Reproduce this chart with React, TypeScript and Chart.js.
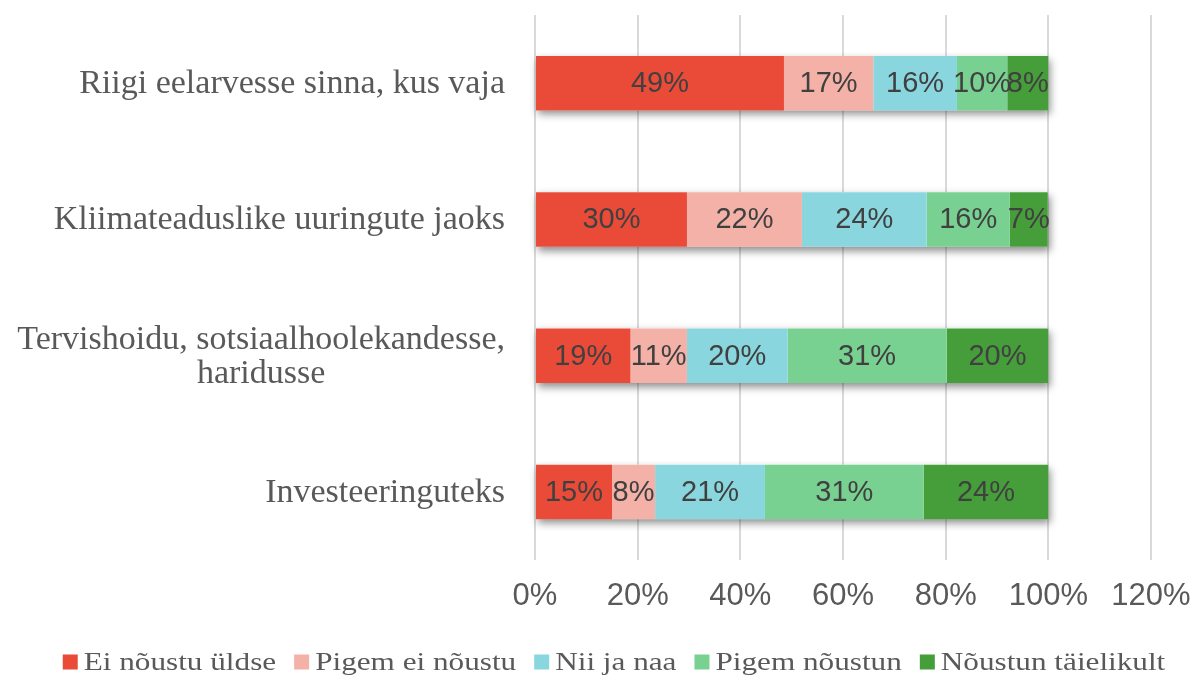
import React, { useEffect, useRef } from "react";
import { Chart, registerables } from "chart.js";

Chart.register(...registerables);

const categories: (string | string[])[] = [
  "Riigi eelarvesse sinna, kus vaja",
  "Kliimateaduslike uuringute jaoks",
  ["Tervishoidu, sotsiaalhoolekandesse,", "haridusse"],
  "Investeeringuteks",
];

const seriesNames = [
  "Ei nõustu üldse",
  "Pigem ei nõustu",
  "Nii ja naa",
  "Pigem nõustun",
  "Nõustun täielikult",
];

const eiNoustuUldse = [48.5, 29.6, 18.6, 15.0];
const pigemEiNoustu = [17.4, 22.4, 11.0, 8.4];
const niiJaNaa = [16.3, 24.3, 19.6, 21.4];
const pigemNoustun = [9.8, 16.2, 31.0, 30.9];
const noustunTaielikult = [8.0, 7.4, 19.8, 24.3];

const seriesColors = ["#EA4B39", "#F4B1A7", "#8AD6DE", "#78D191", "#469E3B"];

const xTicks = [0, 20, 40, 60, 80, 100, 120];

const SERIF = "'Liberation Serif', 'Times New Roman', serif";
const SANS = "'Liberation Sans', Arial, sans-serif";

const barShadow = {
  id: "barShadow",
  beforeDatasetsDraw(chart: any) {
    const ctx = chart.ctx;
    const n = chart.data.datasets.length;
    const first = chart.getDatasetMeta(0);
    const last = chart.getDatasetMeta(n - 1);
    ctx.save();
    ctx.shadowColor = "rgba(0,0,0,0.45)";
    ctx.shadowBlur = 8;
    ctx.shadowOffsetX = 2;
    ctx.shadowOffsetY = 4;
    ctx.fillStyle = "#ffffff";
    first.data.forEach((el: any, i: number) => {
      const endEl = last.data[i];
      const x0 = el.base;
      const x1 = endEl.x;
      const h = el.height;
      ctx.fillRect(x0, el.y - h / 2, x1 - x0, h);
    });
    ctx.restore();
  },
};

const dataLabels = {
  id: "dataLabels",
  afterDatasetsDraw(chart: any) {
    const ctx = chart.ctx;
    ctx.save();
    ctx.font = `29px ${SANS}`;
    ctx.fillStyle = "#404040";
    ctx.textAlign = "center";
    ctx.textBaseline = "middle";
    chart.data.datasets.forEach((ds: any, di: number) => {
      const meta = chart.getDatasetMeta(di);
      meta.data.forEach((el: any, i: number) => {
        const v = ds.data[i];
        const cx = (el.x + el.base) / 2;
        ctx.fillText(Math.round(v) + "%", cx, el.y + 1);
      });
    });
    ctx.restore();
  },
};

const categoryLabels = {
  id: "categoryLabels",
  afterDraw(chart: any) {
    const ctx = chart.ctx;
    const scale = chart.scales.y;
    const fontSize = 34;
    const lineH = 34;
    const xRight = scale.right - 30;
    ctx.save();
    ctx.font = `${fontSize}px ${SERIF}`;
    ctx.fillStyle = "#595959";
    ctx.textBaseline = "middle";
    categories.forEach((lab, i) => {
      const yc = scale.getPixelForValue(i);
      const lines = Array.isArray(lab) ? lab : [lab];
      const widest = Math.max(...lines.map((l) => ctx.measureText(l).width));
      const cx = xRight - widest / 2;
      ctx.textAlign = "center";
      const y0 = yc - ((lines.length - 1) * lineH) / 2;
      lines.forEach((l, k) => {
        ctx.fillText(l, cx, y0 + k * lineH + 1);
      });
    });
    ctx.restore();
  },
};

const customLegend = {
  id: "customLegend",
  afterDraw(chart: any) {
    const ctx = chart.ctx;
    const stretch = 1.2;
    const box = 15;
    const boxGap = 6;
    const itemGap = 18;
    const yc = 662;
    const centerX = 614;
    ctx.save();
    ctx.font = `26px ${SERIF}`;
    ctx.textBaseline = "middle";
    ctx.textAlign = "left";
    const widths = seriesNames.map((s) => ctx.measureText(s).width * stretch);
    const total =
      widths.reduce((a, b) => a + b, 0) +
      seriesNames.length * (box + boxGap) +
      (seriesNames.length - 1) * itemGap;
    let x = centerX - total / 2;
    seriesNames.forEach((s, i) => {
      ctx.fillStyle = seriesColors[i];
      ctx.fillRect(x, yc - box / 2, box, box);
      x += box + boxGap;
      ctx.save();
      ctx.translate(x, yc + 1);
      ctx.scale(stretch, 1);
      ctx.fillStyle = "#595959";
      ctx.fillText(s, 0, 0);
      ctx.restore();
      x += widths[i] + itemGap;
    });
    ctx.restore();
  },
};

export default function App() {
  const ref = useRef<HTMLCanvasElement | null>(null);

  useEffect(() => {
    if (!ref.current) return;
    const allSeries = [
      eiNoustuUldse,
      pigemEiNoustu,
      niiJaNaa,
      pigemNoustun,
      noustunTaielikult,
    ];
    const chart = new Chart(ref.current, {
      type: "bar",
      data: {
        labels: categories,
        datasets: allSeries.map((d, i) => ({
          label: seriesNames[i],
          data: d,
          backgroundColor: seriesColors[i],
          borderWidth: 0,
          barPercentage: 0.4,
          categoryPercentage: 1,
        })),
      },
      options: {
        indexAxis: "y",
        responsive: false,
        animation: false,
        maintainAspectRatio: false,
        layout: { padding: { top: 15, right: 42, left: 0, bottom: 57 } },
        scales: {
          x: {
            stacked: true,
            min: 0,
            max: 120,
            afterBuildTicks: (scale: any) => {
              scale.ticks = xTicks.map((v) => ({ value: v }));
            },
            afterFit: (scale: any) => {
              scale.height = 60;
              scale.paddingLeft = 0;
              scale.paddingRight = 0;
            },
            grid: {
              color: "#D9D9D9",
              lineWidth: 2,
              drawTicks: false,
            },
            border: { display: false },
            ticks: {
              padding: 18,
              color: "#595959",
              font: { family: SANS, size: 31 },
              callback: (v: any) => v + "%",
            },
          },
          y: {
            stacked: true,
            afterFit: (scale: any) => {
              scale.width = 535;
              scale.paddingTop = 0;
              scale.paddingBottom = 0;
            },
            grid: { display: false },
            border: { display: false },
            ticks: {
              color: "rgba(0,0,0,0)",
              font: { family: SERIF, size: 8 },
            },
          },
        },
        plugins: {
          legend: { display: false },
          tooltip: { enabled: false },
        },
      },
      plugins: [barShadow, dataLabels, categoryLabels, customLegend],
    });
    return () => chart.destroy();
  }, []);

  return (
    <div style={{ position: "absolute", left: 0, top: 0, width: 1193, height: 677, background: "#fff" }}>
      <canvas ref={ref} width={1193} height={677} style={{ display: "block" }} />
    </div>
  );
}
